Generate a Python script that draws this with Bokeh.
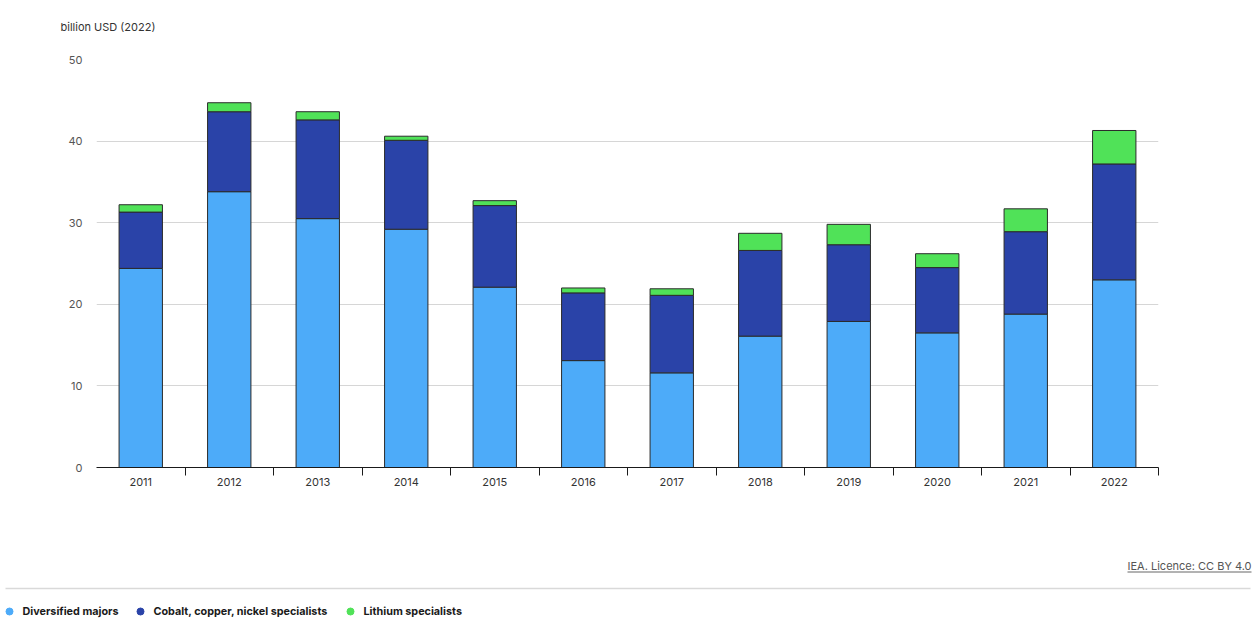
from bokeh.plotting import figure
from bokeh.models import ColumnDataSource, Range1d, FixedTicker
from bokeh.layouts import column
from bokeh.embed import file_html
from bokeh.resources import INLINE
from bokeh.core.properties import value

# ---- data (billion USD, 2022) ----
years = ["2011", "2012", "2013", "2014", "2015", "2016",
         "2017", "2018", "2019", "2020", "2021", "2022"]
diversified_majors = [24.4, 33.8, 30.5, 29.2, 22.1, 13.1, 11.6, 16.1, 17.9, 16.5, 18.8, 23.0]
cobalt_copper_nickel = [6.9, 9.8, 12.1, 10.9, 10.0, 8.3, 9.5, 10.5, 9.4, 8.0, 10.1, 14.2]
lithium_specialists = [0.9, 1.1, 1.0, 0.5, 0.6, 0.6, 0.8, 2.1, 2.5, 1.7, 2.8, 4.1]
series_names = ["Diversified majors", "Cobalt, copper, nickel specialists", "Lithium specialists"]
y_ticks = [0, 10, 20, 30, 40, 50]
unit_label = "billion USD (2022)"
source_note = "IEA. Licence: CC BY 4.0"

colors = ["#4dabf9", "#2a43a8", "#50e258"]
FONT = "Inter"
W = 1260


def blank(height):
    fig = figure(width=W, height=height, output_backend="svg", toolbar_location=None,
                 x_range=Range1d(0, W), y_range=Range1d(height, 0),
                 min_border=0, min_border_left=0, min_border_right=0,
                 min_border_top=0, min_border_bottom=0)
    fig.frame_align = False
    fig.axis.visible = False
    fig.grid.visible = False
    fig.outline_line_color = None
    fig.border_fill_color = "white"
    return fig


# ---- header ----
H0 = 45
h = blank(H0)
h.text(x=[60], y=[26], text=[unit_label], text_font=value(FONT),
       text_font_size="11px", text_color="#333333",
       text_align="left", text_baseline="middle")

# ---- main chart ----
centers = [i + 0.5 for i in range(len(years))]
source = ColumnDataSource(dict(x=centers, a=diversified_majors,
                               b=cobalt_copper_nickel, c=lithium_specialists))

H1 = 548 - H0
p = figure(width=W, height=H1, output_backend="svg", toolbar_location=None,
           x_range=Range1d(0, len(years)), y_range=Range1d(0, 50),
           min_border_left=96, min_border_right=W - 1158, min_border_top=59 - H0,
           min_border_bottom=548 - 467)
p.frame_align = False
p.outline_line_color = None
p.background_fill_color = "white"
p.border_fill_color = "white"

p.vbar_stack(["a", "b", "c"], x="x", width=0.49, color=colors,
             line_color="#2b2b2b", line_width=1, source=source)

xa = p.xaxis[0]
xa.ticker = FixedTicker(ticks=centers, minor_ticks=list(range(1, len(years) + 1)))
xa.major_label_overrides = {c: y for c, y in zip(centers, years)}
xa.major_tick_out = 0
xa.major_tick_in = 0
xa.minor_tick_out = 8
xa.minor_tick_in = 0
xa.minor_tick_line_color = "#1a1a1a"
xa.axis_line_color = "#1a1a1a"
xa.axis_line_width = 1.2
xa.major_label_standoff = 2
xa.major_label_text_font = FONT
xa.major_label_text_font_size = "11px"
xa.major_label_text_color = "#333333"

ya = p.yaxis[0]
ya.ticker = FixedTicker(ticks=y_ticks)
ya.axis_line_color = None
ya.major_tick_line_color = None
ya.minor_tick_line_color = None
ya.major_tick_out = 0
ya.major_tick_in = 0
ya.minor_tick_out = 0
ya.major_label_standoff = 14
ya.major_label_text_font = FONT
ya.major_label_text_font_size = "11px"
ya.major_label_text_color = "#555555"

p.xgrid.grid_line_color = None
p.ygrid.grid_line_color = "#d6d6d6"
p.ygrid.grid_line_width = 1

# ---- footer: source note, separator, legend ----
top = 548
H2 = 625 - top
f = blank(H2)
f.text(x=[1251], y=[565 - top], text=[source_note],
       text_font=value(FONT), text_font_size="11px", text_color="#555555",
       text_align="right", text_baseline="middle")
f.segment(x0=[1127], y0=[571.5 - top], x1=[1251], y1=[571.5 - top],
          line_color="#666666", line_width=1)
f.segment(x0=[5], y0=[588 - top], x1=[1250], y1=[588 - top],
          line_color="#d9d9d9", line_width=1.5)

leg_cx = [9, 140, 350]
leg_tx = [22, 153, 363]
ly = 611 - top
f.scatter(x=leg_cx, y=[ly] * 3, size=7, color=colors, marker="circle")
f.text(x=leg_tx, y=[ly] * 3, text=series_names, text_font=value(FONT),
       text_font_size="10.8px", text_font_style="bold", text_color="#1a1a1a",
       text_align="left", text_baseline="middle")

layout = column(h, p, f, spacing=0)
open("out.html", "w").write(file_html(layout, INLINE))
